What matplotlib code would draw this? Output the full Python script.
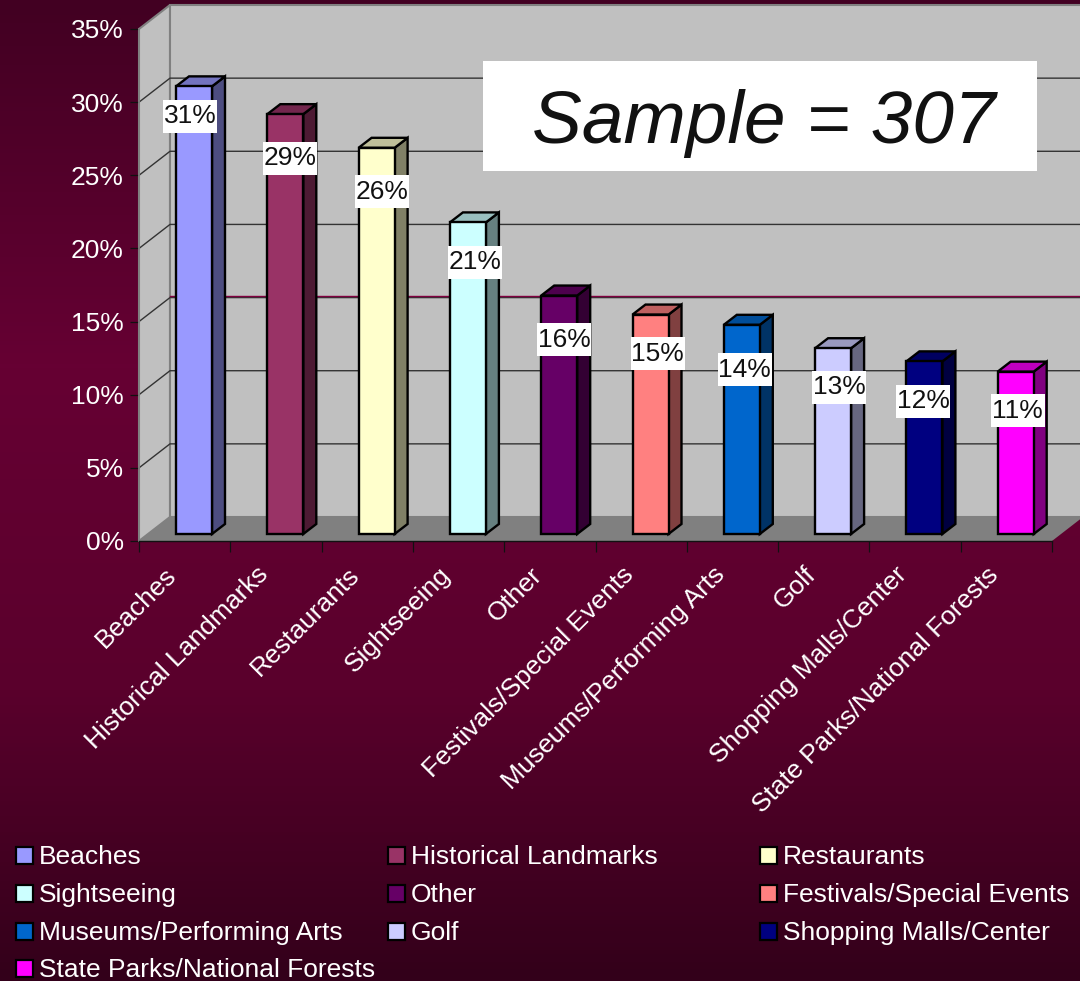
# -*- coding: utf-8 -*-
import matplotlib
matplotlib.use('Agg')
import matplotlib.pyplot as plt
from matplotlib.colors import LinearSegmentedColormap, to_rgb
from matplotlib.patches import Polygon, Rectangle
from matplotlib.transforms import IdentityTransform
import numpy as np

plt.rcParams['font.family'] = ['Liberation Sans', 'DejaVu Sans']

categories = ['Beaches', 'Historical Landmarks', 'Restaurants', 'Sightseeing', 'Other',
              'Festivals/Special Events', 'Museums/Performing Arts', 'Golf',
              'Shopping Malls/Center', 'State Parks/National Forests']
values = [30.6, 28.7, 26.4, 21.3, 16.3, 15.0, 14.3, 12.7, 11.8, 11.1]
value_labels = ['31%', '29%', '26%', '21%', '16%', '15%', '14%', '13%', '12%', '11%']
colors = ['#9999ff', '#993366', '#ffffcc', '#ccffff', '#660066',
          '#ff8080', '#0066cc', '#ccccff', '#000080', '#ff00ff']
y_ticks = [0, 5, 10, 15, 20, 25, 30, 35]
y_tick_labels = ['0%', '5%', '10%', '15%', '20%', '25%', '30%', '35%']

W, H = 1080, 981
fig = plt.figure(figsize=(W / 100, H / 100), dpi=100)

# 背景渐变
bg = fig.add_axes([0, 0, 1, 1], zorder=0)
cmap = LinearSegmentedColormap.from_list('bg', ['#420022', '#660033', '#5a002c', '#33001a'])
grad = np.interp(np.linspace(0, 1, 256), [0, 0.4, 0.6, 1], [0, 0.36, 0.55, 1]).reshape(-1, 1)
bg.imshow(grad, cmap=cmap, aspect='auto', extent=[0, W, H, 0], vmin=0, vmax=1)
bg.set_xlim(0, W)
bg.set_ylim(H, 0)
bg.axis('off')

# 主坐标轴: 正面框 x 139-1052, y 541-29
ax = fig.add_axes([139 / W, 1 - 541 / H, 913 / W, 512 / H], zorder=1)
ax.patch.set_visible(False)
n = len(categories)
ax.set_xlim(0, n)
ax.set_ylim(0, 35)
for s in ['top', 'right']:
    ax.spines[s].set_visible(False)
ax.spines['bottom'].set_color('#111111')
ax.spines['bottom'].set_linewidth(1.0)
ax.spines['bottom'].set_zorder(2)
ax.spines['left'].set_color('#808080')
ax.spines['left'].set_linewidth(1.3)
ax.spines['left'].set_zorder(2)

# 三维墙面
dx, dy = 31 / 91.3, 24 / 14.63
ax.add_patch(Polygon([(0, 0), (dx, dy), (dx, 35 + dy), (0, 35)], closed=True, fc='#c0c0c0',
                     ec='#808080', lw=1.5, clip_on=False, zorder=1))
ax.add_patch(Polygon([(dx, dy), (n + dx, dy), (n + dx, 35 + dy), (dx, 35 + dy)], closed=True,
                     fc='#c0c0c0', ec='#808080', lw=1.5, clip_on=False, zorder=1))
ax.add_patch(Polygon([(0, 0), (n, 0), (n + dx, dy), (dx, dy)], closed=True, fc='#808080',
                     ec='none', clip_on=False, zorder=1.5))

# 网格线
for t in y_ticks[1:-1]:
    ax.plot([0, dx, n + dx], [t, t + dy, t + dy], color='#333333', lw=1.0, clip_on=False, zorder=1.2)
ax.plot([dx, n + dx], [15 + dy + 0.14] * 2, color='#800040', lw=1.0, clip_on=False, zorder=1.3)

ax.set_yticks(y_ticks)
ax.set_yticklabels(y_tick_labels)
ax.set_xticks(range(n + 1))
ax.set_xticklabels([])
ax.set_xticks(np.arange(n) + 0.28, minor=True)
ax.set_xticklabels(categories, minor=True, rotation=45, ha='right', va='top', rotation_mode='anchor')
ax.tick_params(axis='y', length=6.5, width=0.9, color='#111111', labelcolor='#ffffff',
               labelsize=19, pad=4.3)
ax.tick_params(axis='x', which='major', length=8, width=0.9, color='#111111')
ax.tick_params(axis='x', which='minor', length=0, labelcolor='#ffffff', labelsize=19, pad=15.5)

# 柱子
bar_w = 36 / 91.3
bar_dx, bar_dy = 13 / 91.3, 10 / 14.63
base = 7 / 14.63
left = (176 - 139) / 91.3
label_dx = [-4, 5, 5, 7, 5, 7, 3, 6, -1, 2]
label_dy = [30, 44, 44, 40, 44, 39, 45, 39, 40, 39]
for i, v in enumerate(values):
    x0 = i + left
    x1 = x0 + bar_w
    top = base + v
    c = np.array(to_rgb(colors[i]))
    ax.add_patch(Polygon([(x1, base), (x1 + bar_dx, base + bar_dy), (x1 + bar_dx, top + bar_dy), (x1, top)],
                         closed=True, fc=c * 0.5, ec='black', lw=1.7, zorder=3, clip_on=False))
    ax.add_patch(Polygon([(x0, top), (x1, top), (x1 + bar_dx, top + bar_dy), (x0 + bar_dx, top + bar_dy)],
                         closed=True, fc=c * 0.75, ec='black', lw=1.7, zorder=3, clip_on=False))
    ax.bar(x0, v, width=bar_w, bottom=base, align='edge', color=colors[i], edgecolor='black',
           linewidth=1.7, zorder=3.5, clip_on=False)
    # 标签白底
    px, py = ax.transData.transform((x0 + bar_w / 2, top))
    ax.add_patch(Rectangle((px + label_dx[i] - 27, py - label_dy[i] - 16.5), 54, 33, fc='white', ec='none',
                           transform=IdentityTransform(), zorder=4.5, clip_on=False))
    ax.annotate(value_labels[i], xy=(x0 + bar_w / 2, top), xytext=(label_dx[i] * 0.72, -label_dy[i] * 0.72),
                textcoords='offset points', ha='center', va='center', fontsize=19, color='#111111',
                zorder=5, annotation_clip=False)

# 说明框和图例, 用像素坐标
over = fig.add_axes([0, 0, 1, 1], zorder=2)
over.patch.set_visible(False)
over.set_xlim(0, W)
over.set_ylim(H, 0)
over.axis('off')
over.add_patch(Rectangle((483, 61), 554, 110, fc='white', ec='none'))
over.text(764, 124, 'Sample = 307', fontsize=53.8, style='italic', color='#111111', ha='center', va='center')

col_x = [17, 389, 761]
row_y = [855, 893, 931, 968]
for i, name in enumerate(categories):
    x = col_x[i % 3]
    y = row_y[i // 3]
    over.add_patch(Rectangle((x - 1, y - 8.5), 17, 17, fc=colors[i], ec='black', lw=1.6))
    over.text(x + 22, y + 2, name, fontsize=19, color='white', ha='left', va='center')

fig.savefig('out.png', dpi=100)
